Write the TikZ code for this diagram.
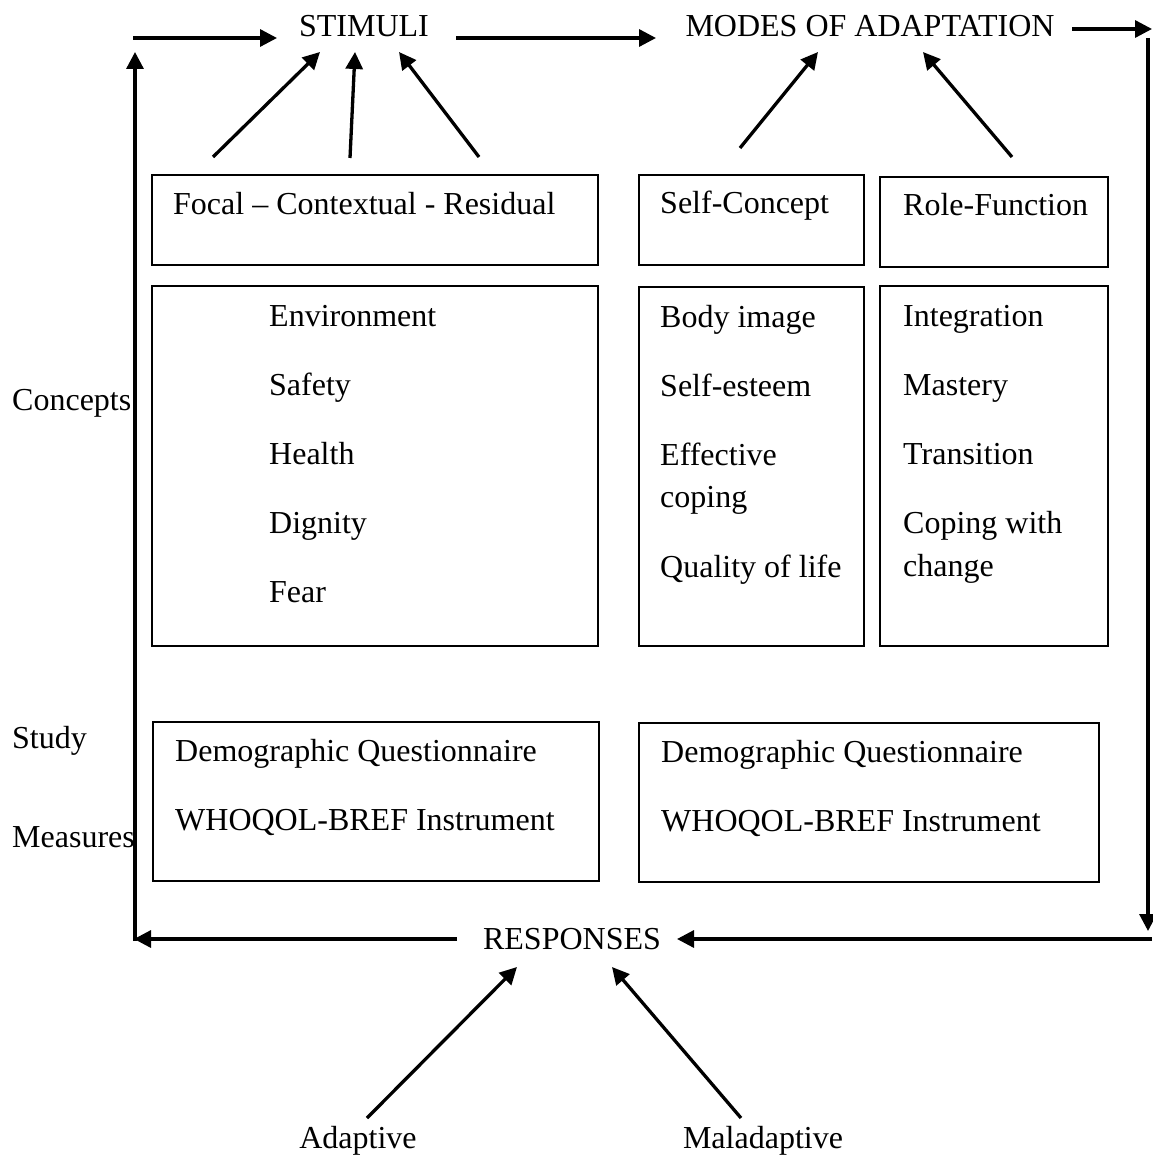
\documentclass[tikz,border=0pt]{standalone}
\usepackage{fontspec}
\setmainfont{Liberation Serif}
\usetikzlibrary{arrows.meta}
\begin{document}
\begin{tikzpicture}[x=1pt,y=-1pt,
  txt/.style={inner sep=0pt,anchor=base west,font=\fontsize{32}{42}\selectfont},
  ctxt/.style={inner sep=0pt,anchor=base,font=\fontsize{32}{42}\selectfont},
  boxx/.style={draw,line width=2.2pt},
  arr/.style={line width=3.3pt,-{Triangle[length=17pt,width=17pt]}},
  ln/.style={line width=3.3pt}]
\useasboundingbox (0,0) rectangle (1152,1155);
% titles
\node[ctxt] (stim) at (364,37) {STIMULI};
\node[ctxt] (modes) at (870,37) {MODES OF ADAPTATION};
\node[ctxt] (resp) at (572,949) {RESPONSES};
\node[ctxt] (adap) at (358,1148) {Adaptive};
\node[ctxt] (malad) at (763,1148) {Maladaptive};
% side labels
\node[txt] (conc) at (12,410) {Concepts};
\node[txt] (study) at (12,748) {Study};
\node[txt] (meas) at (12,847) {Measures};
% boxes
\draw[boxx] (152,175) rectangle (598,265) node[pos=.5] (b1) {};
\draw[boxx] (152,286) rectangle (598,646) node[pos=.5] (b2) {};
\draw[boxx] (639,175) rectangle (864,265) node[pos=.5] (b3) {};
\draw[boxx] (880,177) rectangle (1108,267) node[pos=.5] (b4) {};
\draw[boxx] (639,287) rectangle (864,646) node[pos=.5] (b5) {};
\draw[boxx] (880,286) rectangle (1108,646) node[pos=.5] (b6) {};
\draw[boxx] (153,722) rectangle (599,881) node[pos=.5] (b7) {};
\draw[boxx] (639,723) rectangle (1099,882) node[pos=.5] (b8) {};
% box texts
\node[txt] (t1) at (173,215) {Focal -- Contextual - Residual};
\node[txt] (t2a) at (269,326) {Environment};
\node[txt] (t2b) at (269,395) {Safety};
\node[txt] (t2c) at (269,464) {Health};
\node[txt] (t2d) at (269,533) {Dignity};
\node[txt] (t2e) at (269,602) {Fear};
\node[txt] (t3) at (660,214) {Self-Concept};
\node[txt] (t4) at (903,216) {Role-Function};
\node[txt] (t5a) at (660,327) {Body image};
\node[txt] (t5b) at (660,396) {Self-esteem};
\node[txt] (t5c) at (660,465) {Effective};
\node[txt] (t5d) at (660,507) {coping};
\node[txt] (t5e) at (660,577) {Quality of life};
\node[txt] (t6a) at (903,326) {Integration};
\node[txt] (t6b) at (903,395) {Mastery};
\node[txt] (t6c) at (903,464) {Transition};
\node[txt] (t6d) at (903,533) {Coping with};
\node[txt] (t6e) at (903,576) {change};
\node[txt] (t7a) at (175,761) {Demographic Questionnaire};
\node[txt] (t7b) at (175,830) {WHOQOL-BREF Instrument};
\node[txt] (t8a) at (661,762) {Demographic Questionnaire};
\node[txt] (t8b) at (661,831) {WHOQOL-BREF Instrument};
% connector coordinates
\coordinate (tl0) at (133,38);
\coordinate (tl1) at (277,38);
\coordinate (sm0) at (456,38);
\coordinate (sm1) at (656,38);
\coordinate (mr0) at (1072,29);
\coordinate (mr1) at (1152,29);
\coordinate (rv0) at (1148,38);
\coordinate (rv1) at (1148,931);
\coordinate (br0) at (1152,939);
\coordinate (br1) at (677,939);
\coordinate (bl0) at (457,939);
\coordinate (bl1) at (134,939);
\coordinate (lv0) at (135,941);
\coordinate (lv1) at (135,52);
\coordinate (s1a) at (213,157);
\coordinate (s1b) at (320,52);
\coordinate (s2a) at (350,158);
\coordinate (s2b) at (355,52);
\coordinate (s3a) at (479,157);
\coordinate (s3b) at (399,52);
\coordinate (m1a) at (740,148);
\coordinate (m1b) at (818,52);
\coordinate (m2a) at (1012,157);
\coordinate (m2b) at (923,52);
\coordinate (r1a) at (367,1118);
\coordinate (r1b) at (517,967);
\coordinate (r2a) at (741,1118);
\coordinate (r2b) at (612,967);
% connectors
\draw[arr] (tl0) -- (tl1);
\draw[arr] (sm0) -- (sm1);
\draw[arr] (mr0) -- (mr1);
\draw[arr] (rv0) -- (rv1);
\draw[arr] (br0) -- (br1);
\draw[arr] (bl0) -- (bl1);
\draw[arr] (lv0) -- (lv1);
\draw[arr] (s1a) -- (s1b);
\draw[arr] (s2a) -- (s2b);
\draw[arr] (s3a) -- (s3b);
\draw[arr] (m1a) -- (m1b);
\draw[arr] (m2a) -- (m2b);
\draw[arr] (r1a) -- (r1b);
\draw[arr] (r2a) -- (r2b);
\end{tikzpicture}
\end{document}
